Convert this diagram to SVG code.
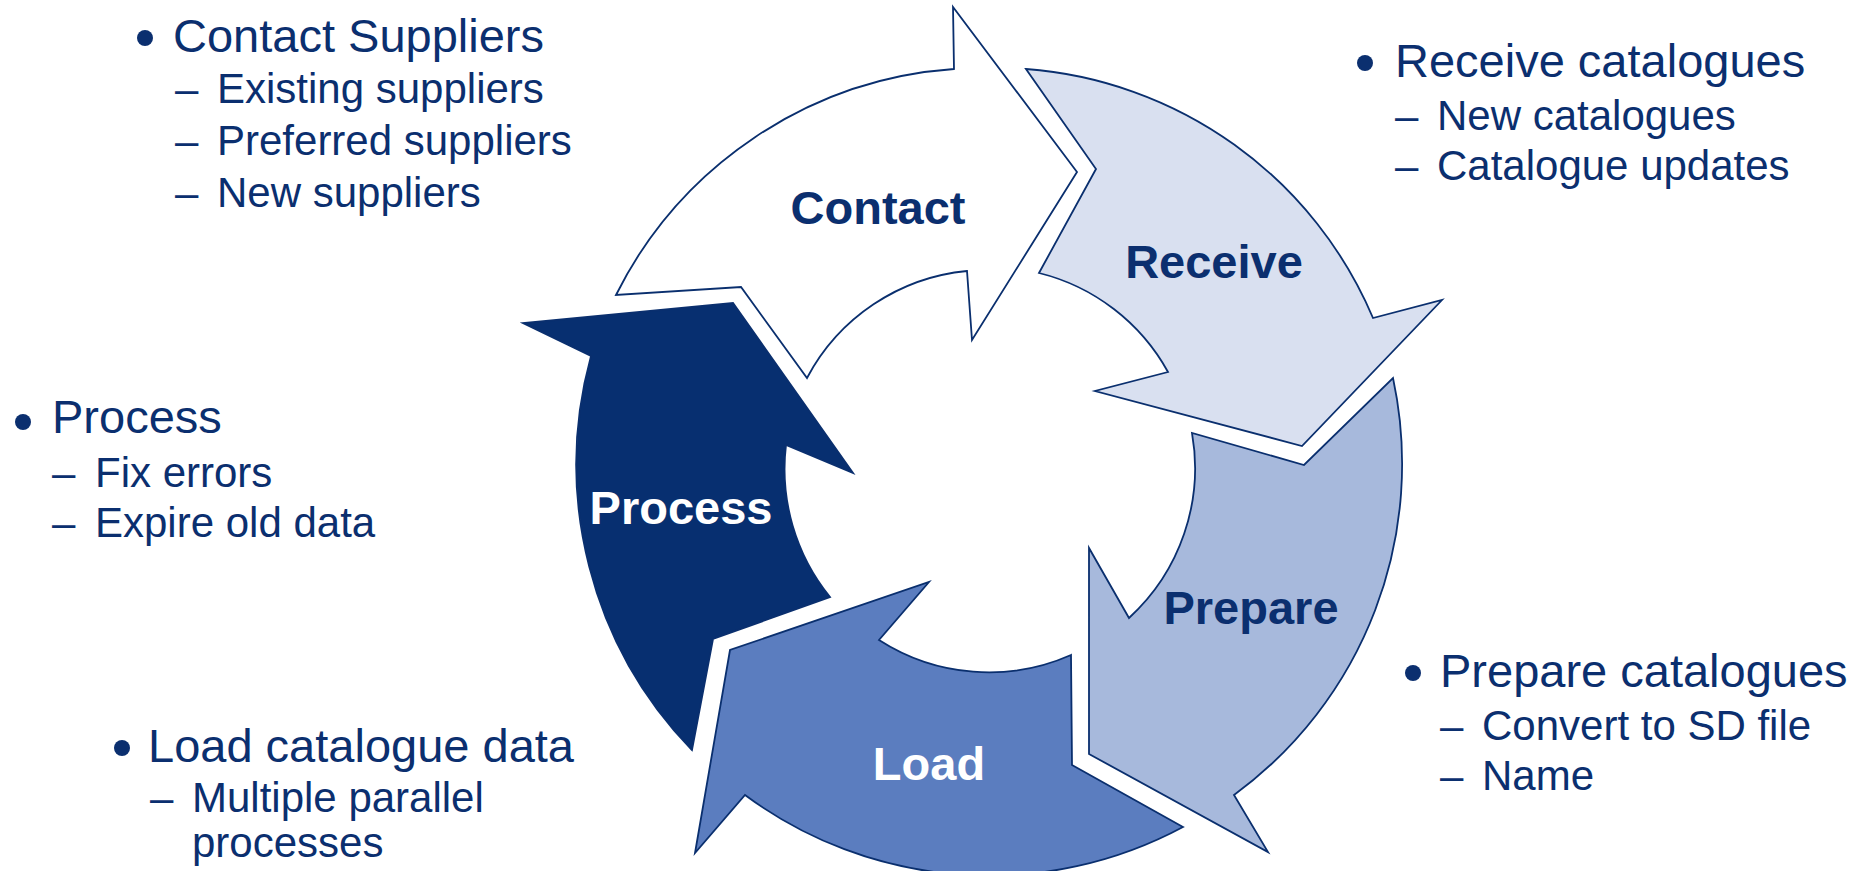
<svg xmlns="http://www.w3.org/2000/svg" width="1873" height="871" viewBox="0 0 1873 871">
<style>
.arrow{stroke:#0A2F6E;stroke-width:1.8;stroke-linejoin:miter}
.lbl{font-family:"Liberation Sans",Arial,sans-serif;font-weight:bold;font-size:47px;text-anchor:middle}
.main{font-family:"Liberation Sans",Arial,sans-serif;font-size:47px;fill:#0B2F6F}
.sub{font-family:"Liberation Sans",Arial,sans-serif;font-size:42px;fill:#0B2F6F}
.dot{fill:#0B2F6F}
</style>
<rect width="1873" height="871" fill="#FFFFFF"/>
<g id="connectors"></g>
<g id="node-contact">
<path class="arrow" fill="#FFFFFF" d="M616,295 A410,410 0 0 1 954,69 L953,7 L1077,172 L972,340 L967,271 A203,203 0 0 0 807,378 L741,287 Z"/>
<text class="lbl" x="878" y="224" fill="#0B2F6F">Contact</text>
</g>
<g id="node-receive">
<path class="arrow" fill="#D9E0F0" d="M1026,69 A410,410 0 0 1 1373,318 L1442,300 L1302,446 L1095,391 L1168,372 A203,203 0 0 0 1039,273 L1096,169 Z"/>
<text class="lbl" x="1214" y="278" fill="#0B2F6F">Receive</text>
</g>
<g id="node-prepare">
<path class="arrow" fill="#A7B9DC" d="M1393,378 A410,410 0 0 1 1234,795 L1268,852 L1089,754 L1089,548 L1129,618 A203,203 0 0 0 1192,433 L1304,465 Z"/>
<text class="lbl" x="1251" y="624" fill="#0B2F6F">Prepare</text>
</g>
<g id="node-load">
<path class="arrow" fill="#5B7DBF" d="M1183,827 L1072,765 L1071,655 A203,203 0 0 1 879,640 L929,582 L730,650 L695,853 L745,795 A410,410 0 0 0 1183,827 Z"/>
<text class="lbl" x="929" y="780" fill="#FFFFFF">Load</text>
</g>
<g id="node-process">
<path class="arrow" fill="#072F70" d="M692,750 A410,410 0 0 1 591,356 L523,323 L733,303 L853,473 L786,445 A203,203 0 0 0 830,597 L713,639 Z"/>
<text class="lbl" x="681" y="524" fill="#FFFFFF">Process</text>
</g>
<g id="notes-contact">
<circle class="dot" cx="145" cy="38" r="8"/>
<text class="main" x="173" y="52">Contact Suppliers</text>
<text class="sub" x="175" y="103">–</text>
<text class="sub" x="217" y="103">Existing suppliers</text>
<text class="sub" x="175" y="155">–</text>
<text class="sub" x="217" y="155">Preferred suppliers</text>
<text class="sub" x="175" y="207">–</text>
<text class="sub" x="217" y="207">New suppliers</text>
</g>
<g id="notes-receive">
<circle class="dot" cx="1365" cy="63" r="8"/>
<text class="main" x="1395" y="77">Receive catalogues</text>
<text class="sub" x="1395" y="130">–</text>
<text class="sub" x="1437" y="130">New catalogues</text>
<text class="sub" x="1395" y="180">–</text>
<text class="sub" x="1437" y="180">Catalogue updates</text>
</g>
<g id="notes-process">
<circle class="dot" cx="23" cy="422" r="8"/>
<text class="main" x="52" y="433">Process</text>
<text class="sub" x="52" y="487">–</text>
<text class="sub" x="95" y="487">Fix errors</text>
<text class="sub" x="52" y="537">–</text>
<text class="sub" x="95" y="537">Expire old data</text>
</g>
<g id="notes-load">
<circle class="dot" cx="122" cy="748" r="8"/>
<text class="main" x="148" y="762">Load catalogue data</text>
<text class="sub" x="150" y="812">–</text>
<text class="sub" x="192" y="812">Multiple parallel</text>
<text class="sub" x="192" y="857">processes</text>
</g>
<g id="notes-prepare">
<circle class="dot" cx="1413" cy="673" r="8"/>
<text class="main" x="1440" y="687">Prepare catalogues</text>
<text class="sub" x="1440" y="740">–</text>
<text class="sub" x="1482" y="740">Convert to SD file</text>
<text class="sub" x="1440" y="790">–</text>
<text class="sub" x="1482" y="790">Name</text>
</g>
</svg>
